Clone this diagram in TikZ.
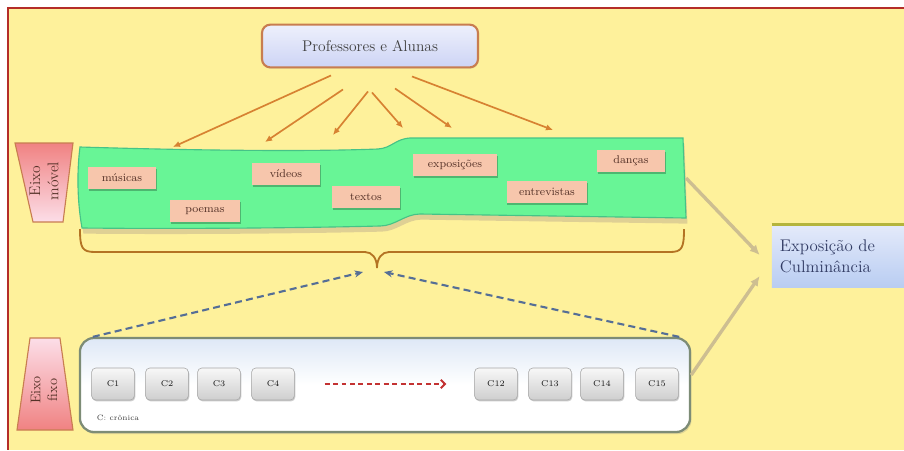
\documentclass[tikz,border=0pt]{standalone}
\usepackage{tikz}
\usetikzlibrary{arrows.meta,positioning,calc,shadows}
\definecolor{fundo}{RGB}{254,241,155}
\definecolor{moldura}{RGB}{180,45,40}
\definecolor{verde}{RGB}{104,245,150}
\definecolor{verdeborda}{RGB}{70,195,135}
\definecolor{salmao}{RGB}{247,198,172}
\definecolor{marrom}{RGB}{85,50,40}
\definecolor{laranja}{RGB}{215,130,50}
\definecolor{chave}{RGB}{180,115,35}
\definecolor{rosa}{RGB}{240,130,130}
\definecolor{rosaclaro}{RGB}{252,222,232}
\definecolor{bordarosa}{RGB}{200,125,80}
\definecolor{azultraco}{RGB}{85,110,150}
\definecolor{bege}{RGB}{205,190,145}
\definecolor{oliva}{RGB}{180,180,60}
\definecolor{lavanda}{RGB}{205,212,245}
\definecolor{azulexpo}{RGB}{185,205,242}
\definecolor{textoazul}{RGB}{50,60,100}
\definecolor{vermelho}{RGB}{195,50,50}
\definecolor{bordacinza}{RGB}{125,140,118}

\begin{document}
\begin{tikzpicture}[x=0.025cm,y=-0.025cm,>=Latex,every node/.style={font=\small},
  item/.style={fill=salmao,text=marrom,font=\fontsize{8}{9}\selectfont,minimum height=0.56cm,inner sep=1pt,
    drop shadow={shadow xshift=0.6pt,shadow yshift=-1.4pt,fill=black,opacity=0.25}},
  cbox/.style={draw=gray!70,rounded corners=3pt,top color=gray!6,bottom color=gray!38,minimum width=1.07cm,minimum height=0.8cm,
    font=\fontsize{6}{7}\selectfont,text=gray!20!black,drop shadow={shadow xshift=0.6pt,shadow yshift=-1pt,fill=black,opacity=0.2}},
  seta/.style={->,draw=laranja,line width=1.2pt,-{Latex[length=5pt,width=4.5pt]}},
  tracejada/.style={draw=azultraco,line width=1.5pt,dash pattern=on 5pt off 3pt,-{Stealth[length=6pt,width=5pt]}},
  bege seta/.style={draw=bege,line width=2.4pt,-{Latex[length=7pt,width=6.5pt]}}]
\useasboundingbox (0,0) rectangle (904,450);
\clip (0,0) rectangle (904,450);
\fill[fundo] (8,8) rectangle (904,450);
\draw[moldura,line width=1.2pt] (904,8) -- (8,8) -- (8,450);

% eixo movel
\filldraw[fill=verde,draw=verdeborda,line width=0.8pt,drop shadow={shadow xshift=1pt,shadow yshift=-4pt,fill=bege!70!fundo,opacity=0.9}]
  (80,147) .. controls (180,150) and (300,152) .. (378,149) .. controls (392,148) and (395,139) .. (410,138) -- (683,138)
  -- (686,218) -- (420,214) .. controls (405,214) and (395,226) .. (380,226) .. controls (300,228) and (180,229) .. (82,228)
  .. controls (77,200) and (77,170) .. (80,147) -- cycle;
\coordinate (bandR) at (686,178);
\shadedraw[top color=rosa,bottom color=rosaclaro,draw=bordarosa,line width=0.8pt] (15,143) -- (73,143) -- (63,222) -- (33,222) -- cycle;
\node[rotate=90,align=center,font=\fontsize{11}{13}\selectfont,text=marrom] (movel) at (44,181) {Eixo\\móvel};

\node[draw=bordarosa,line width=1.5pt,rounded corners=6pt,top color=lavanda!35,bottom color=lavanda,minimum width=5.4cm,minimum height=1.07cm,
  font=\fontsize{11}{13}\selectfont,text=black!75,drop shadow={shadow xshift=0.6pt,shadow yshift=-1pt,opacity=0.15}] (prof) at (370,46) {Professores e Alunas};
\foreach \dx/\dy/\ex/\ey in {-39/7/173/147,-27/21/265/142,-2/23/333/135,2/24/403/128,25/20/452/128,42/8/553/130}
  \draw[seta] ($(prof.south)+(\dx,\dy)$) -- (\ex,\ey);

\node[item,minimum width=1.7cm] (musicas) at (122,178) {músicas};
\node[item,minimum width=1.75cm] (poemas) at (205,211) {poemas};
\node[item,minimum width=1.7cm] (videos) at (286,174) {vídeos};
\node[item,minimum width=1.7cm] (textos) at (366,197) {textos};
\node[item,minimum width=2.1cm] (exposicoes) at (455,165) {exposições};
\node[item,minimum width=2.02cm] (entrevistas) at (547,192) {entrevistas};
\node[item,minimum width=1.7cm] (dancas) at (631,161) {danças};

% chave
\draw[chave,line width=1.3pt] (80,229) .. controls (80,248) and (82,252) .. (95,252) -- (365,252) .. controls (372,252) and (377,258) .. (377,268)
  .. controls (377,258) and (382,252) .. (389,252) -- (670,252) .. controls (682,252) and (684,248) .. (684,229);
\coordinate (tip) at (377,268);

% eixo fixo
\node[draw=bordacinza,line width=1.6pt,rounded corners=10pt,top color={rgb,255:red,222;green,232;blue,246},bottom color=white,middle color=white,
  minimum width=15.25cm,minimum height=2.35cm,drop shadow={shadow xshift=1pt,shadow yshift=-1.5pt,opacity=0.25}] (low) at (385,385) {};
\shadedraw[top color=rosaclaro,bottom color=rosa,draw=bordarosa,line width=0.8pt] (30,338) -- (60,338) -- (73,430) -- (17,430) -- cycle;
\node[rotate=90,align=center,font=\fontsize{10}{12}\selectfont,text=marrom] (fixo) at (44,390) {Eixo\\fixo};
\foreach \n/\xx in {1/113,2/167,3/219,4/273,12/496,13/550,14/602,15/657}
  \node[cbox] (c\n) at (\xx,384) {C\n};
\draw[vermelho,line width=1.3pt,dash pattern=on 3.5pt off 2.5pt,-{Straight Barb[length=3pt]}] ($(c4.east)+(30,0)$) -- ($(c12.west)+(-28,0)$);
\node[anchor=west,font=\fontsize{5.5}{6}\selectfont,text=gray!50!black] (legenda) at (92,418) {C: crônica};

\draw[tracejada] ($(low.north west)+(14,0)$) -- ($(tip)+(-14,4)$);
\draw[tracejada] ($(low.north east)+(-12,0)$) -- ($(tip)+(7,4)$);

% culminancia
\node[top color={rgb,255:red,228;green,234;blue,250},bottom color=azulexpo,minimum width=3.45cm,minimum height=1.55cm,text width=3.05cm,align=left,
  inner xsep=0.2cm,font=\fontsize{12}{15}\selectfont,text=textoazul] (expo) at (841,256) {Exposição de\\Culminância};
\draw[oliva,line width=2.5pt] (expo.north west) -- (expo.north east);
\draw[bege seta] (bandR) -- ($(expo.west)+(-12,-1)$);
\draw[bege seta] ($(low.east)+(0,-10)$) -- ($(expo.west)+(-12,20)$);
\end{tikzpicture}
\end{document}
